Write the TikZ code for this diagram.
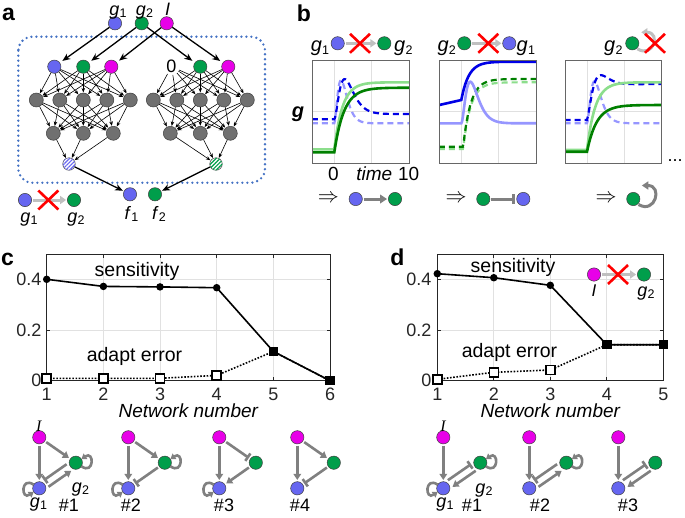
\documentclass[tikz,border=0pt]{standalone}
\usepackage{fontspec}
\usepackage{graphicx}
\setmainfont{Liberation Sans}
\newfontfamily\tnr{Liberation Serif}
\usetikzlibrary{arrows.meta,patterns,patterns.meta,calc}
\newcommand\fs[1]{\fontsize{#1}{#1}\selectfont}
\newcommand\gl[2]{\textit{#1}\kern0.3pt\raisebox{-0.3ex}{\fs{12.5}#2}}
\newcommand\dimp{\scalebox{2.1}{$\Rightarrow$}}
\definecolor{cblue}{RGB}{102,102,240}
\definecolor{cgreen}{RGB}{0,158,75}
\definecolor{cmag}{RGB}{232,0,232}
\definecolor{cgrayn}{RGB}{112,112,112}
\definecolor{cgray}{RGB}{128,128,128}
\definecolor{clgray}{RGB}{192,192,192}
\definecolor{cbox}{RGB}{68,114,196}
\definecolor{pdb}{RGB}{0,0,230}
\definecolor{plb}{RGB}{150,150,255}
\definecolor{pdg}{RGB}{0,128,0}
\definecolor{plg}{RGB}{140,222,140}
\definecolor{cgrid}{RGB}{225,225,225}
\definecolor{caxis}{RGB}{38,38,38}
\tikzset{
  nd/.style={circle,draw=black!75,line width=0.5pt,minimum size=13.3pt,inner sep=0pt},
  hid/.style={nd,fill=cgrayn,minimum size=14pt},
  hatchB/.style={nd,minimum size=12.5pt,fill=white,postaction={pattern={Lines[angle=45,distance=2.8pt,line width=1.2pt]},pattern color=cblue}},
  hatchG/.style={nd,minimum size=12.5pt,fill=white,postaction={pattern={Lines[angle=45,distance=2.8pt,line width=1.2pt]},pattern color=cgreen}},
  lab/.style={inner sep=0pt,font=\fs{18}},
  big/.style={inner sep=0pt,font=\fs{23}\bfseries},
  tk/.style={inner sep=0pt,font=\fs{18},text=caxis},
  narr/.style={draw=black,line width=0.6pt,-{Stealth[length=4.5pt,width=3.6pt]},shorten >=0.3pt},
  barr/.style={draw=black,line width=1.3pt,-{Stealth[length=8pt,width=6.5pt]},shorten >=3pt},
  lga/.style={draw=clgray,line width=3pt,-{Triangle[length=6pt,width=8pt]},shorten >=1pt,shorten <=1pt},
  gcb/.style={draw=cgray,line width=3pt,shorten >=1pt,shorten <=1pt},
  gc/.style={draw=cgray,line width=2.6pt,shorten >=1.5pt,shorten <=1.5pt},
  ta/.style={-{Triangle[length=6pt,width=7.5pt]}},
  tb/.style={-{Bar[width=9pt,line width=2.6pt]}},
  offu/.style={transform canvas={xshift=-2.3pt,yshift=3.3pt}},
  offd/.style={transform canvas={xshift=2.3pt,yshift=-3.3pt}},
  redx/.style={draw=red,line width=2.6pt},
  grd/.style={draw=cgrid,line width=0.7pt},
  pgrd/.style={draw=black!12,line width=0.8pt},
  axs/.style={draw=caxis,line width=0.8pt},
  pbox/.style={draw=black!60,line width=1pt},
  sol/.style={line width=2.6pt},
  dsh/.style={line width=2.2pt,dash pattern=on 6pt off 4pt},
  sensl/.style={draw=black,line width=1.6pt},
  adl/.style={draw=black,line width=1.6pt,dash pattern=on 1.6pt off 1.6pt},
  sdot/.style={circle,fill=black,inner sep=0pt,minimum size=7.5pt},
  fsq/.style={rectangle,fill=black,inner sep=0pt,minimum size=9.5pt},
  osq/.style={rectangle,draw=black,fill=white,line width=1.5pt,inner sep=0pt,minimum size=9pt}
}
\newcommand\redX[2]{\draw[redx] (#1-10,#2-9.5) -- (#1+10,#2+9.5) (#1-10,#2+9.5) -- (#1+10,#2-9.5);}
\newcommand\loopL[1]{\draw[gc,shorten <=0pt,shorten >=0pt,-{Triangle[length=5pt,width=6.5pt]}] ($(#1)+(-5.6,-3.6)$) .. controls +(-13,-9) and +(-13,9) .. ($(#1)+(-5.6,3.6)$);}
\newcommand\loopR[1]{\draw[gc,shorten <=0pt,shorten >=0pt,-{Triangle[length=5pt,width=6.5pt]}] ($(#1)+(5.6,3.6)$) .. controls +(13,9) and +(13,-9) .. ($(#1)+(5.6,-3.6)$);}
\newcommand\cplot[3]{\draw[#1] plot[domain=-3:10,samples=131,variable=\q] ({#2+22+7.47*\q},{#3});}
\begin{document}
\begin{tikzpicture}[x=1pt,y=-1pt,
  declare function={stp(\vt,\va,\vb,\vc)=(\vt<0)*\va+(\vt>=0)*(\vb+(\va-\vb)*exp(-max(\vt,0)/\vc));
    pls(\vt,\vp)=(\vt>=0)*(max(\vt,0)/\vp)*(max(\vt,0)/\vp)*exp(2-2*max(\vt,0)/\vp);}]
\useasboundingbox (0,0) rectangle (685,517);
\fill[white] (0,0) rectangle (685,517);

% ---------------- panel a ----------------
\node[big,anchor=base] (pa) at (8.5,20) {a};
\draw[cbox,line width=2.6pt,line cap=round,dash pattern=on 0pt off 5pt,rounded corners=14pt] (18.3,36.7) rectangle (265,182.7);
\node[nd,fill=cblue] (tg1) at (115,23.3) {};
\node[nd,fill=cgreen] (tg2) at (141.7,23.3) {};
\node[nd,fill=cmag] (tI) at (166.7,23.3) {};
\node[lab,anchor=base] (ltg1) at (118,15) {\gl{g}{1}};
\node[lab,anchor=base] (ltg2) at (144.5,15) {\gl{g}{2}};
\node[lab,anchor=base] (ltI) at (167.5,15) {\textit{I}};

\node[nd,fill=cblue] (Li1) at (54.3,66.7) {};
\node[nd,fill=cgreen] (Li2) at (83.3,66.7) {};
\node[nd,fill=cmag] (Li3) at (111.3,66.7) {};
\node[circle,minimum size=13.3pt,inner sep=0pt,font=\fs{18}] (Ri1) at (171.5,66.7) {0};
\node[nd,fill=cgreen] (Ri2) at (200.3,66.7) {};
\node[nd,fill=cmag] (Ri3) at (228.3,66.7) {};
\foreach \s/\cx in {L/83.3,R/200.3} {
  \foreach \i/\dx in {1/-47,2/-23.5,3/0,4/23.5,5/47}
    \node[hid] (\s h\i) at ({\cx+(\dx)},100) {};
  \foreach \i/\dx in {1/-30,2/0,3/30}
    \node[hid] (\s k\i) at ({\cx+(\dx)},133.3) {};
}
\node[hatchB] (Lo) at (69,164) {};
\node[hatchG] (Ro) at (216,164) {};
\foreach \s in {L,R} {
  \foreach \i in {1,2,3} {\foreach \j in {1,...,5} {\draw[narr] (\s i\i) -- (\s h\j);}}
  \foreach \i in {1,...,5} {\foreach \j in {1,2,3} {\draw[narr] (\s h\i) -- (\s k\j);}}
  \foreach \j in {1,2,3} {\draw[narr] (\s k\j) -- (\s o);}
}
\draw[barr] (tg1) -- (Li1);
\draw[barr] (tg2) -- (Li2);
\draw[barr] (tI) -- (Li3);
\draw[barr] (tg2) -- (Ri2);
\draw[barr] (tI) -- (Ri3);
\node[nd,fill=cblue] (f1) at (130,194.3) {};
\node[nd,fill=cgreen] (f2) at (155,194.3) {};
\draw[barr,shorten >=1pt] (Lo) -- (f1);
\draw[barr,shorten >=1pt] (Ro) -- (f2);
\node[lab,anchor=base] (lf1) at (131.5,219) {\gl{f}{1}};
\node[lab,anchor=base] (lf2) at (159,219) {\gl{f}{2}};
\node[nd,fill=cblue] (ag1) at (25,200) {};
\node[nd,fill=cgreen] (ag2) at (74,200) {};
\draw[lga] (ag1) -- (ag2);
\redX{48.3}{200}
\node[lab,anchor=base] (lag1) at (29,222) {\gl{g}{1}};
\node[lab,anchor=base] (lag2) at (76,222) {\gl{g}{2}};

% ---------------- panel b ----------------
\node[big,anchor=base] (pb) at (304,21.7) {b};
\node[lab,anchor=base,font=\fs{20}] (t1l) at (320,51) {\gl{g}{1}};
\node[nd,fill=cblue] (t1a) at (337.7,43.3) {};
\node[nd,fill=cgreen] (t1b) at (384.3,43.3) {};
\node[lab,anchor=base,font=\fs{20}] (t1r) at (403.3,51) {\gl{g}{2}};
\draw[lga] (t1a) -- (t1b);
\redX{360}{43.3}
\node[lab,anchor=base,font=\fs{20}] (t2l) at (446.7,51) {\gl{g}{2}};
\node[nd,fill=cgreen] (t2a) at (464.3,43.3) {};
\node[nd,fill=cblue] (t2b) at (509.3,43.3) {};
\node[lab,anchor=base,font=\fs{20}] (t2r) at (525.8,51) {\gl{g}{1}};
\draw[lga] (t2a) -- (t2b);
\redX{488.3}{43.3}
\node[lab,anchor=base,font=\fs{20}] (t3l) at (613.3,51) {\gl{g}{2}};
\node[nd,fill=cgreen] (t3a) at (632.3,43.3) {};
\draw[draw=clgray,line width=3pt,-{Triangle[length=6pt,width=8pt]}] ($(t3a)+(5,5.5)$) .. controls +(16,10) and +(20,0) .. ($(t3a)+(9,-11)$);
\redX{655}{43.3}
\foreach \X in {312.3,439.3,565} {
  \draw[pgrd] (\X+22,60.7) -- (\X+22,163.3);
  \draw[pgrd] (\X+59.4,60.7) -- (\X+59.4,163.3);
  \draw[pgrd] (\X,111.7) -- (\X+96.7,111.7);
}
\begin{scope}
\clip (312.3,60.7) rectangle (409,163.3);
\cplot{plb,dsh}{312.3}{123.3-43*pls(\q,0.9)}
\cplot{plg,sol}{312.3}{stp(\q,149.3,82.3,1.1)}
\cplot{pdb,dsh}{312.3}{stp(\q,119.3,114,1.5)-37*pls(\q,1.35)}
\cplot{pdg,sol}{312.3}{stp(\q,152.3,87.7,1.3)}
\end{scope}
\begin{scope}
\clip (439.3,60.7) rectangle (536,163.3);
\cplot{plg,dsh}{439.3}{stp(\q-0.25,149,82.3,1.0)}
\cplot{pdg,dsh}{439.3}{stp(\q-0.25,146.7,79,1.0)}
\cplot{plb,sol}{439.3}{123.3-41.6*pls(\q,1.2)}
\cplot{pdb,sol}{439.3}{(\q<0)*(100-1.7*\q)+(\q>=0)*(61.7+38.3*exp(-max(\q,0)/1.0))}
\end{scope}
\begin{scope}
\clip (565,60.7) rectangle (661.7,163.3);
\cplot{plb,dsh}{565}{123.3-42*pls(\q,1.0)}
\cplot{pdb,dsh}{565}{stp(\q,120,84,1.5)-21*pls(\q,1.4)}
\cplot{plg,sol}{565}{stp(\q,150,82.3,1.1)}
\cplot{pdg,sol}{565}{stp(\q,151.7,105,1.3)}
\end{scope}
\foreach \X in {312.3,439.3,565} {\draw[pbox] (\X,60.7) rectangle (\X+96.7,163.3);}
\node[lab,anchor=base,font=\fs{20}\bfseries\itshape] (gy) at (298,117) {g};
\node[lab,anchor=base,font=\fs{19}] (t0) at (333.5,180) {0};
\node[lab,anchor=base,font=\fs{19}\itshape] (ttime) at (374.3,180) {time};
\node[lab,anchor=base,font=\fs{19}] (t10) at (408.7,180) {10};
\node[lab,anchor=base] (dots) at (675,161) {...};
\node[inner sep=0pt] (r1) at (328.3,199) {\dimp};
\node[nd,fill=cblue] (b1a) at (355.7,199) {};
\node[nd,fill=cgreen] (b1b) at (395,199) {};
\draw[gcb,-{Triangle[length=7pt,width=8.5pt]}] (b1a) -- (b1b);
\node[inner sep=0pt] (r2) at (456,199) {\dimp};
\node[nd,fill=cgreen] (b2a) at (483.3,199) {};
\node[nd,fill=cblue] (b2b) at (523.3,199) {};
\draw[gcb,-{Bar[width=10pt,line width=3pt]}] (b2a) -- (b2b);
\node[inner sep=0pt] (r3) at (606,199) {\dimp};
\node[nd,fill=cgreen] (b3a) at (633.3,199) {};
\draw[draw=cgray,line width=3pt,-{Triangle[length=6.5pt,width=8pt]}] ($(b3a)+(5.2,5.5)$) .. controls +(17,10) and +(21,0) .. ($(b3a)+(8.5,-13.5)$);

% ---------------- panel c ----------------
\node[big,anchor=base] (pc) at (7.5,265) {c};
\foreach \i in {1,...,4} {\draw[grd] ({46.7+\i*56.67},254) -- ({46.7+\i*56.67},380.7);}
\foreach \v in {279.3,330} {\draw[grd] (46.7,\v) -- (330,\v);}
\draw[axs] (46.7,254) rectangle (330,380.7);
\foreach \i in {0,...,5} {\draw[axs] ({46.7+\i*56.67},380.7) -- ++(0,-3.5); \draw[axs] ({46.7+\i*56.67},254) -- ++(0,3.5);}
\foreach \v in {380.7,330,279.3} {\draw[axs] (46.7,\v) -- ++(3.5,0); \draw[axs] (330,\v) -- ++(-3.5,0);}
\foreach \i in {1,...,6} {\node[tk,anchor=base] (cx\i) at ({46.7+(\i-1)*56.67},400) {\i};}
\node[tk,anchor=east] (cy0) at (41.5,380.7) {0};
\node[tk,anchor=east] (cy2) at (41.5,330) {0.2};
\node[tk,anchor=east] (cy4) at (41.5,279.3) {0.4};
\draw[adl] (46.7,378.3) -- (103.4,378.3) -- (160,378.3) -- (216.7,375.4) -- (273.4,351.5) -- (330,380.7);
\draw[sensl] (46.7,279.3) -- (103.4,286.4) -- (160,286.9) -- (216.7,287.7) -- (273.4,351.5) -- (330,380.7);
\foreach \x/\y [count=\k] in {46.7/279.3,103.4/286.4,160/286.9,216.7/287.7} {\node[sdot] (cs\k) at (\x,\y) {};}
\foreach \x/\y [count=\k] in {46.7/378.3,103.4/378.3,160/378.3,216.7/375.4} {\node[osq] (ca\k) at (\x,\y) {};}
\node[fsq] (cf5) at (273.4,351.5) {};
\node[fsq] (cf6) at (330,380.7) {};
\node[lab,anchor=base,font=\fs{19.5}] (csens) at (137,276) {sensitivity};
\node[lab,anchor=base,font=\fs{19.5}] (cadapt) at (134.5,361.5) {adapt error};
\node[lab,anchor=base,font=\fs{19}\itshape] (cnn) at (188.3,417.5) {Network number};
% mini networks c
\node[nd,fill=cmag] (c1I) at (39.3,437.3) {};
\node[nd,fill=cgreen] (c1G) at (75.8,462.7) {};
\node[nd,fill=cblue] (c1B) at (39.3,488.3) {};
\draw[gc,ta] (c1I) -- (c1B);
\draw[gc,ta] (c1I) -- (c1G);
\draw[gc,tb,offu] (c1G) -- (c1B);
\draw[gc,ta,offd] (c1B) -- (c1G);
\loopL{c1B} \loopR{c1G}
\node[lab,anchor=base,font=\fs{16}\tnr\itshape] (c1lI) at (38.7,431.5) {I};
\node[lab,anchor=base] (c1lg2) at (80.5,492) {\gl{g}{2}};
\node[lab,anchor=base] (c1lg1) at (38.5,507) {\gl{g}{1}};
\node[lab,anchor=base] (c1n) at (69,511.5) {\#1};

\node[nd,fill=cmag] (c2I) at (128.3,437.3) {};
\node[nd,fill=cgreen] (c2G) at (164.8,462.7) {};
\node[nd,fill=cblue] (c2B) at (128.3,488.3) {};
\draw[gc,ta] (c2I) -- (c2B);
\draw[gc,ta] (c2I) -- (c2G);
\draw[gc,tb] (c2G) -- (c2B);
\loopL{c2B} \loopR{c2G}
\node[lab,anchor=base] (c2n) at (131,511.5) {\#2};

\node[nd,fill=cmag] (c3I) at (219.3,437.3) {};
\node[nd,fill=cgreen] (c3G) at (255.8,462.7) {};
\node[nd,fill=cblue] (c3B) at (219.3,488.3) {};
\draw[gc,ta] (c3I) -- (c3B);
\draw[gc,tb] (c3I) -- (c3G);
\draw[gc,ta] (c3G) -- (c3B);
\loopL{c3B}
\node[lab,anchor=base] (c3n) at (224,511.5) {\#3};

\node[nd,fill=cmag] (c4I) at (297.3,437.3) {};
\node[nd,fill=cgreen] (c4G) at (333.8,462.7) {};
\node[nd,fill=cblue] (c4B) at (297.3,488.3) {};
\draw[gc,ta] (c4I) -- (c4B);
\draw[gc,ta] (c4I) -- (c4G);
\draw[gc,tb] (c4G) -- (c4B);
\node[lab,anchor=base] (c4n) at (300,511.5) {\#4};

% ---------------- panel d ----------------
\node[big,anchor=base] (pd) at (397.5,265) {d};
\foreach \i in {1,...,3} {\draw[grd] ({437.3+\i*56.5},254) -- ({437.3+\i*56.5},380.7);}
\foreach \v in {279.3,330} {\draw[grd] (437.3,\v) -- (663.3,\v);}
\draw[axs] (437.3,254) rectangle (663.3,380.7);
\foreach \i in {0,...,4} {\draw[axs] ({437.3+\i*56.5},380.7) -- ++(0,-3.5); \draw[axs] ({437.3+\i*56.5},254) -- ++(0,3.5);}
\foreach \v in {380.7,330,279.3} {\draw[axs] (437.3,\v) -- ++(3.5,0); \draw[axs] (663.3,\v) -- ++(-3.5,0);}
\foreach \i in {1,...,5} {\node[tk,anchor=base] (dx\i) at ({437.3+(\i-1)*56.5},400) {\i};}
\node[tk,anchor=east] (dy0) at (431.5,380.7) {0};
\node[tk,anchor=east] (dy2) at (431.5,330) {0.2};
\node[tk,anchor=east] (dy4) at (431.5,279.3) {0.4};
\draw[adl] (437.3,379.3) -- (493.8,372.3) -- (550.3,370) -- (606.8,344.7) -- (663.3,344.7);
\draw[sensl] (437.3,273.7) -- (493.8,277.7) -- (550.3,285.3) -- (606.8,344.7) -- (663.3,344.7);
\foreach \x/\y [count=\k] in {437.3/273.7,493.8/277.7,550.3/285.3} {\node[sdot] (ds\k) at (\x,\y) {};}
\foreach \x/\y [count=\k] in {437.3/379.3,493.8/372.3,550.3/370} {\node[osq] (da\k) at (\x,\y) {};}
\node[fsq] (df4) at (606.8,344.7) {};
\node[fsq] (df5) at (663.3,344.7) {};
\node[lab,anchor=base,font=\fs{19.5}] (dsens) at (513,272) {sensitivity};
\node[lab,anchor=base,font=\fs{19.5}] (dadapt) at (509.5,357.7) {adapt error};
\node[lab,anchor=base,font=\fs{19}\itshape] (dnn) at (550.3,417.5) {Network number};
\node[nd,fill=cmag] (dI) at (594,274.5) {};
\node[nd,fill=cgreen] (dG) at (644,274.5) {};
\draw[lga] (dI) -- (dG);
\redX{618}{274.5}
\node[lab,anchor=base,font=\fs{17}\itshape] (dlI) at (594,296) {I};
\node[lab,anchor=base] (dlg2) at (646,296) {\gl{g}{2}};
% mini networks d
\node[nd,fill=cmag] (d1I) at (443.3,437.3) {};
\node[nd,fill=cgreen] (d1G) at (480.3,462.7) {};
\node[nd,fill=cblue] (d1B) at (443.3,488.3) {};
\draw[gc,ta] (d1I) -- (d1B);
\draw[gc,tb,offu] (d1B) -- (d1G);
\draw[gc,ta,offd] (d1G) -- (d1B);
\loopL{d1B} \loopR{d1G}
\node[lab,anchor=base,font=\fs{16}\tnr\itshape] (d1lI) at (443,431.5) {I};
\node[lab,anchor=base] (d1lg2) at (484,493) {\gl{g}{2}};
\node[lab,anchor=base] (d1lg1) at (445,507) {\gl{g}{1}};
\node[lab,anchor=base] (d1n) at (472,511.5) {\#1};

\node[nd,fill=cmag] (d2I) at (529.3,437.3) {};
\node[nd,fill=cgreen] (d2G) at (566.3,462.7) {};
\node[nd,fill=cblue] (d2B) at (529.3,488.3) {};
\draw[gc,ta] (d2I) -- (d2B);
\draw[gc,tb,offu] (d2G) -- (d2B);
\draw[gc,ta,offd] (d2B) -- (d2G);
\loopR{d2G}
\node[lab,anchor=base] (d2n) at (540,511.5) {\#2};

\node[nd,fill=cmag] (d3I) at (618.3,437.3) {};
\node[nd,fill=cgreen] (d3G) at (655.3,462.7) {};
\node[nd,fill=cblue] (d3B) at (618.3,488.3) {};
\draw[gc,ta] (d3I) -- (d3B);
\draw[gc,tb,offu] (d3B) -- (d3G);
\draw[gc,ta,offd] (d3G) -- (d3B);
\node[lab,anchor=base] (d3n) at (628,511.5) {\#3};
\end{tikzpicture}
\end{document}
